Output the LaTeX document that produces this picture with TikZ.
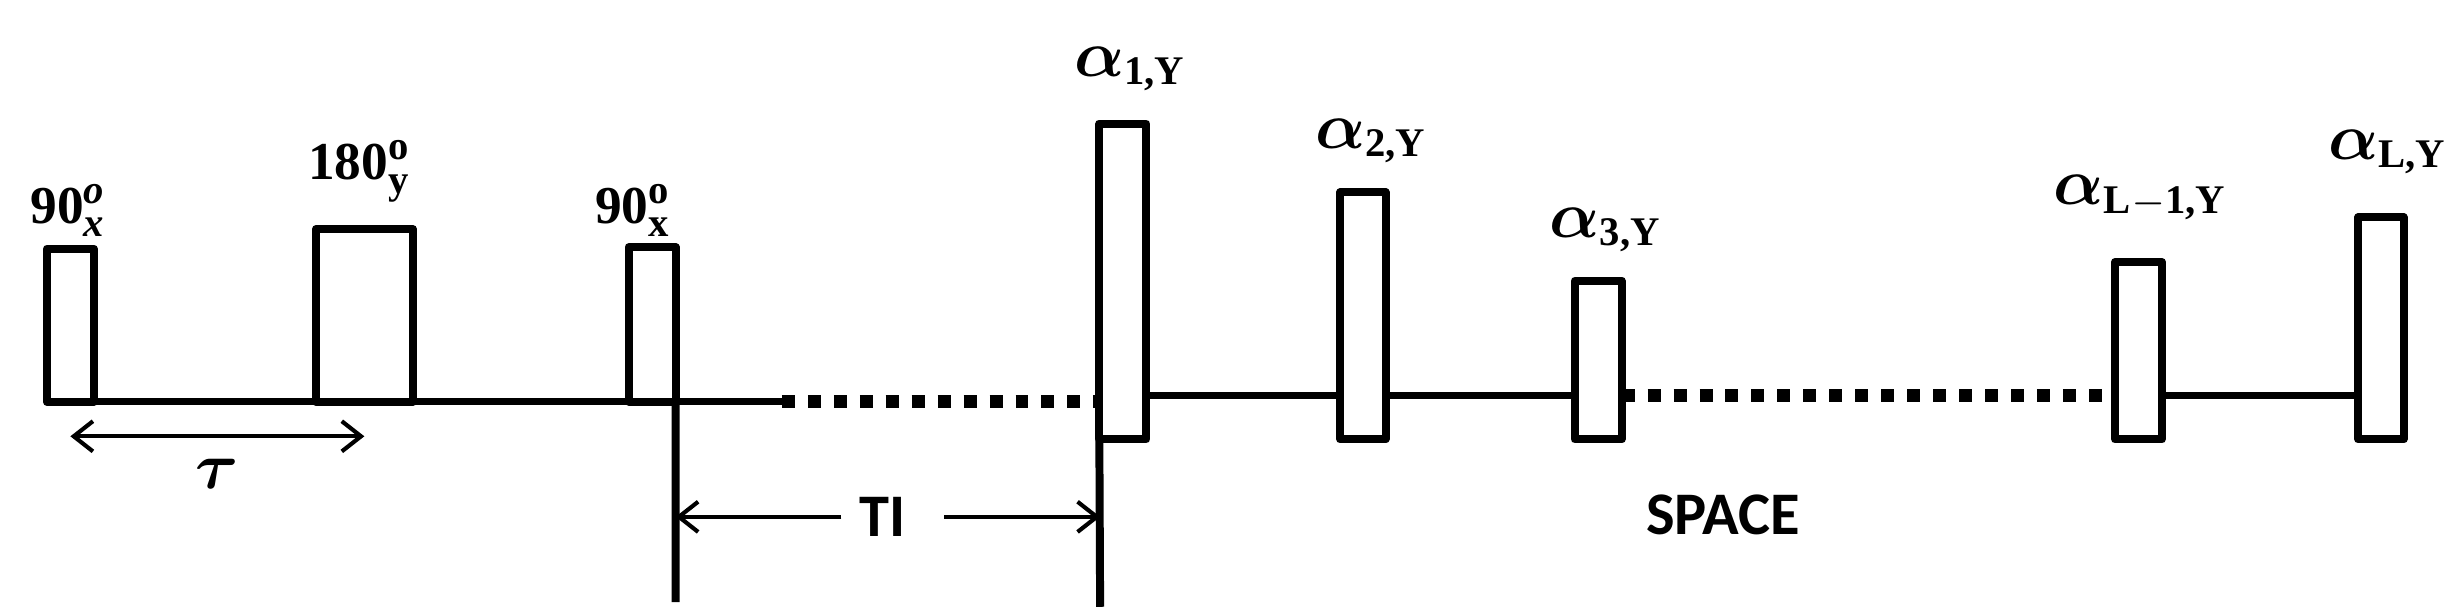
\documentclass[tikz,border=0pt]{standalone}
\usepackage{amsmath}
\usepackage{fontspec}
\setmainfont{Liberation Serif}
\newfontfamily\calfont{Carlito}
\usetikzlibrary{arrows.meta, positioning, calc}

\newcommand{\lblfont}{\fontsize{9.7}{11}\selectfont\bfseries}
\newcommand{\annfont}{\calfont\fontsize{11}{13}\selectfont\bfseries}
\newcommand{\sbs}[1]{\text{\fontsize{7.4}{8}\selectfont #1}}
\newcommand{\grk}[1]{\text{\fontsize{11.5}{12}\selectfont$\boldsymbol{#1}$}}

\begin{document}
\begin{tikzpicture}[
    >={Straight Barb[length=3.5pt,width=5.5pt]},
    pulse/.style={draw, line width=1.45pt, line join=round, inner sep=0pt, outer sep=0pt,
                  minimum width=0.30cm, anchor=south},
    lbl/.style={font=\lblfont, anchor=base, inner sep=0pt},
    ann/.style={font=\annfont, inner sep=0.11cm},
    seq/.style={line width=1.3pt},
    dots/.style={line width=2.4pt, dash pattern=on 0.083cm off 0.083cm},
    vline/.style={line width=1.45pt},
    dim/.style={line width=0.75pt}
]
\useasboundingbox (0,0) rectangle (15.68,3.89);

% Preparation pulses
\node[pulse, minimum height=0.98cm] (p1) at (0.45,1.32) {};
\node[pulse, minimum width=0.62cm, minimum height=1.105cm] (p2) at (2.33,1.32) {};
\node[pulse, minimum height=0.99cm] (p3) at (4.17,1.32) {};

% Readout pulses
\node[pulse, minimum height=2.02cm] (a1) at (7.18,1.08) {};
\node[pulse, minimum width=0.29cm, minimum height=1.58cm] (a2) at (8.715,1.08) {};
\node[pulse, minimum height=1.015cm] (a3) at (10.22,1.08) {};
\node[pulse, minimum height=1.135cm] (aL1) at (13.675,1.08) {};
\node[pulse, minimum width=0.29cm, minimum height=1.42cm] (aL) at (15.225,1.08) {};

% Pulse labels
\node[lbl] (l1) at (0.44,2.464) {90$^{\sbs{\itshape o}}_{\sbs{\itshape x}}$};
\node[lbl] (l2) at (2.30,2.74) {180$^{\sbs{o}}_{\sbs{y}}$};
\node[lbl] (l3) at (4.05,2.464) {90$^{\sbs{o}}_{\sbs{x}}$};
\node[lbl] (la1) at (7.23,3.40) {$\grk{\alpha}_{\sbs{1,Y}}$};
\node[lbl] (la2) at (8.77,2.94) {$\grk{\alpha}_{\sbs{2,Y}}$};
\node[lbl] (la3) at (10.27,2.37) {$\grk{\alpha}_{\sbs{3,Y}}$};
\node[lbl] (laL1) at (13.69,2.58) {$\grk{\alpha}_{\sbs{L$-$1,Y}}$};
\node[lbl] (laL) at (15.27,2.87) {$\grk{\alpha}_{\sbs{L,Y}}$};

% Time axis
\coordinate (d1) at (5.00,1.32);
\coordinate (r) at (0,1.36);
\coordinate (d2) at (13.45,1.36);
\draw[seq] (p1.south west) -- (d1);
\draw[dots] (d1) -- (a1.west |- d1);
\draw[seq] (a1.east |- r) -- (a2.west |- r);
\draw[seq] (a2.east |- r) -- (a3.west |- r);
\draw[dots] (a3.east |- r) -- (d2);
\draw[seq] (aL1.east |- r) -- (aL.west |- r);

% Inversion time markers
\coordinate (v1) at (4.32,0.04);
\coordinate (v2) at (7.035,0.01);
\draw[vline] (p3.south east) -- (v1);
\draw[vline] (a1.south west) -- (v2);

% tau
\draw[dim, <->] ([yshift=-0.22cm]p1.south) -- node[midway, below=0.13cm, lbl, anchor=north] (tau) {$\grk{\tau}$} ([yshift=-0.22cm]p2.south);

% TI
\node[ann] (ti) at (5.645,0.585) {TI};
\draw[dim, ->] (ti.west) -- (ti.west -| v1);
\draw[dim, ->] ([xshift=0.13cm]ti.east) -- (ti.east -| v2);

\node[ann] (space) at (11.02,0.60) {SPACE};

\end{tikzpicture}
\end{document}
